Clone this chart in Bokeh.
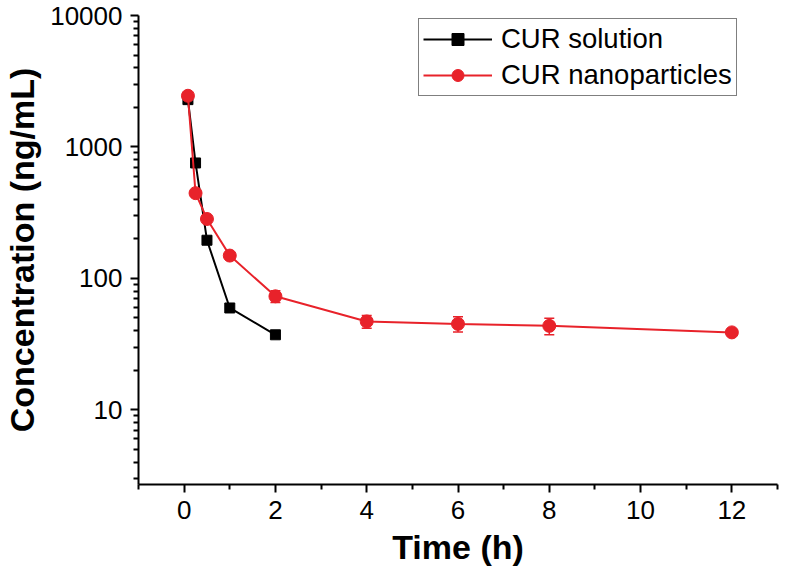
from bokeh.plotting import figure
from bokeh.models import (ColumnDataSource, Whisker, TeeHead, FixedTicker,
                          NumeralTickFormatter)
from bokeh.embed import file_html
from bokeh.resources import INLINE

# ---- data ----
sol_time = [0.083, 0.25, 0.5, 1, 2]
sol_conc = [2290, 755, 195, 59.5, 37.2]

nano_time = [0.083, 0.25, 0.5, 1, 2, 4, 6, 8, 12]
nano_conc = [2450, 445, 283, 149, 73, 47, 45, 43.5, 38.8]
nano_err = [80, 20, 12, 6, 7.5, 5.2, 6, 6.2, 1.5]

x_ticks = [0, 2, 4, 6, 8, 10, 12]
x_minor = [-1, 1, 3, 5, 7, 9, 11, 13]
y_ticks = [10, 100, 1000, 10000]

RED = "#e8222a"
FONT = "Liberation Sans"

nano_src = ColumnDataSource(dict(
    t=nano_time, c=nano_conc,
    lo=[c - e for c, e in zip(nano_conc, nano_err)],
    hi=[c + e for c, e in zip(nano_conc, nano_err)],
))
sol_src = ColumnDataSource(dict(t=sol_time, c=sol_conc))

p = figure(width=779, height=568, y_axis_type="log",
           x_range=(-1, 13), y_range=(2.7, 10000),
           output_backend="svg", toolbar_location=None,
           min_border_left=132, min_border_right=2,
           min_border_top=15, min_border_bottom=84)

p.outline_line_color = None
p.xgrid.grid_line_color = None
p.ygrid.grid_line_color = None
p.background_fill_color = "white"
p.border_fill_color = "white"

# solution
p.line("t", "c", source=sol_src, line_color="black", line_width=2,
       legend_label="CUR solution")
p.scatter("t", "c", source=sol_src, marker="square", size=10,
          fill_color="black", line_color="black", legend_label="CUR solution")

# nanoparticles
w = Whisker(base="t", lower="lo", upper="hi", source=nano_src,
            line_color=RED, line_width=1.5,
            upper_head=TeeHead(size=10, line_color=RED, line_width=1.5),
            lower_head=TeeHead(size=10, line_color=RED, line_width=1.5))
p.add_layout(w)
p.line("t", "c", source=nano_src, line_color=RED, line_width=2,
       legend_label="CUR nanoparticles")
p.scatter("t", "c", source=nano_src, marker="circle", size=13,
          fill_color=RED, line_color=RED, legend_label="CUR nanoparticles")

# axes
xa = p.xaxis[0]
xa.ticker = FixedTicker(ticks=x_ticks, minor_ticks=x_minor)
ya = p.yaxis[0]
minor = [m * 10 ** k for k in range(0, 4) for m in range(2, 10)]
minor = [v for v in minor if v >= 2.7]
ya.ticker = FixedTicker(ticks=y_ticks, minor_ticks=minor)
ya.formatter = NumeralTickFormatter(format="0")

for ax in (xa, ya):
    ax.axis_line_color = "black"
    ax.axis_line_width = 2
    ax.major_tick_line_color = "black"
    ax.major_tick_line_width = 2
    ax.minor_tick_line_color = "black"
    ax.minor_tick_line_width = 2
    ax.major_tick_in = 0
    ax.major_tick_out = 8
    ax.minor_tick_in = 0
    ax.minor_tick_out = 5
    ax.major_label_text_font = FONT
    ax.major_label_text_font_size = "26px"
    ax.major_label_text_color = "black"
    ax.axis_label_text_font = FONT
    ax.axis_label_text_font_style = "bold"
    ax.axis_label_text_font_size = "34px"
    ax.axis_label_text_color = "black"

xa.axis_label = "Time (h)"
ya.axis_label = "Concentration (ng/mL)"
xa.major_label_standoff = 8
xa.axis_label_standoff = 6
ya.major_label_standoff = 8
ya.axis_label_standoff = 6

# legend
leg = p.legend[0]
leg.location = (280, 388)
leg.label_text_font = FONT
leg.label_text_font_size = "27.5px"
leg.label_text_color = "black"
leg.border_line_color = "black"
leg.border_line_width = 1.5
leg.background_fill_alpha = 1
leg.glyph_width = 69
leg.glyph_height = 30
leg.label_height = 30
leg.label_standoff = 9
leg.padding = 4
leg.spacing = 4
leg.margin = 0

html = file_html(p, INLINE)
open("out.html", "w").write(html)
